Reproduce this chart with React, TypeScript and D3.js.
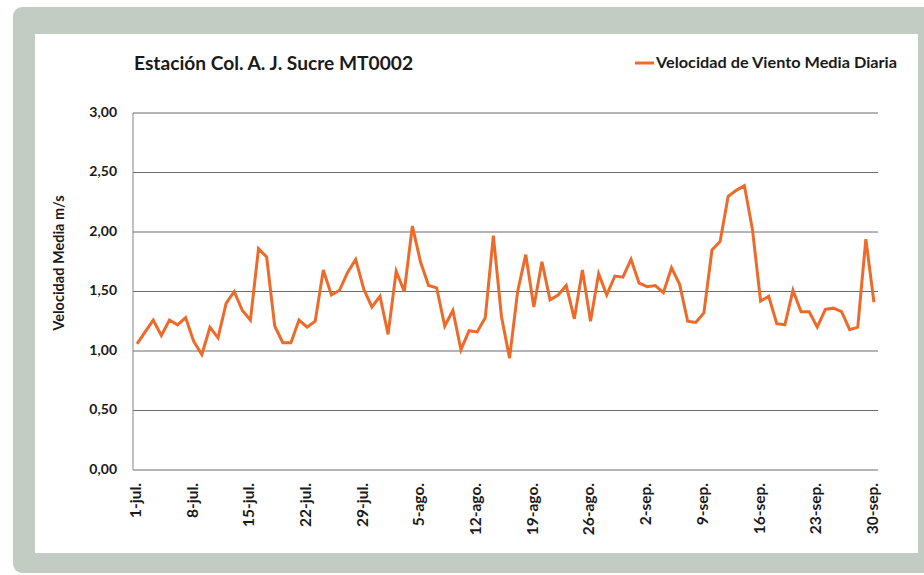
import React from 'react';
import * as d3 from 'd3';

// daily mean wind speed, 1-jul .. 30-sep (92 days)
const windSpeed = [
  1.06, 1.16, 1.26, 1.13, 1.26, 1.22, 1.28, 1.08, 0.97, 1.2,
  1.11, 1.4, 1.5, 1.34, 1.26, 1.86, 1.79, 1.21, 1.07, 1.07,
  1.26, 1.2, 1.25, 1.68, 1.47, 1.51, 1.66, 1.77, 1.52, 1.37,
  1.46, 1.14, 1.67, 1.5, 2.05, 1.75, 1.55, 1.53, 1.21, 1.34,
  1.01, 1.17, 1.16, 1.28, 1.97, 1.29, 0.94, 1.5, 1.81, 1.37,
  1.75, 1.43, 1.47, 1.55, 1.27, 1.68, 1.25, 1.65, 1.47, 1.63,
  1.62, 1.77, 1.57, 1.54, 1.55, 1.49, 1.7, 1.56, 1.25, 1.24,
  1.32, 1.85, 1.92, 2.3, 2.35, 2.39, 2.02, 1.42, 1.46, 1.23,
  1.22, 1.51, 1.33, 1.33, 1.2, 1.35, 1.36, 1.33, 1.18, 1.2,
  1.94, 1.41
];

const tickLabels = [
  '1-jul.', '8-jul.', '15-jul.', '22-jul.', '29-jul.', '5-ago.', '12-ago.',
  '19-ago.', '26-ago.', '2-sep.', '9-sep.', '16-sep.', '23-sep.', '30-sep.'
];

const yTicks = [0, 0.5, 1, 1.5, 2, 2.5, 3];

const title = 'Estación Col. A. J. Sucre MT0002';
const seriesName = 'Velocidad de Viento Media Diaria';
const yTitle = 'Velocidad Media m/s';

const W = 924;
const H = 575;
const plot = { left: 133, right: 878, top: 113, bottom: 470 };
const orange = '#ee6a2a';
const font = 'Lato, "Open Sans", sans-serif';

export default function App() {
  const x = d3
    .scaleBand<number>()
    .domain(d3.range(windSpeed.length))
    .range([plot.left, plot.right]);
  const cx = (i: number) => (x(i) as number) + x.bandwidth() / 2;

  const y = d3.scaleLinear().domain([0, 3]).range([plot.bottom, plot.top]);

  const line = d3
    .line<number>()
    .x((_, i) => cx(i))
    .y(d => y(d));

  const fmt = (v: number) => d3.format('.2f')(v).replace('.', ',');

  return (
    <svg
      width={W}
      height={H}
      style={{ position: 'absolute', left: 0, top: 0 }}
      fontFamily={font}
    >
      <rect x={13} y={7} width={W + 20} height={566} rx={9} fill="#c2ccc3" />
      <rect x={35} y={34} width={883} height={519} fill="#ffffff" />

      <text
        x={134}
        y={70}
        fontSize={19}
        fontWeight={700}
        fill="#1a1a1a"
        textLength={279}
        lengthAdjust="spacingAndGlyphs"
      >
        {title}
      </text>

      <line x1={635} x2={654} y1={63} y2={63} stroke={orange} strokeWidth={3} />
      <text
        x={656}
        y={68}
        fontSize={14.5}
        fontWeight={700}
        fill="#1a1a1a"
        textLength={241}
        lengthAdjust="spacingAndGlyphs"
      >
        {seriesName}
      </text>

      {yTicks.map(t => (
        <g key={t}>
          <line
            x1={plot.left}
            x2={plot.right}
            y1={y(t)}
            y2={y(t)}
            stroke="#6b6b6b"
            strokeWidth={1}
          />
          <text
            x={117}
            y={y(t)}
            textAnchor="end"
            dominantBaseline="middle"
            fontSize={14}
            fontWeight={700}
            fill="#1a1a1a"
          >
            {fmt(t)}
          </text>
        </g>
      ))}
      <line
        x1={plot.left}
        x2={plot.left}
        y1={plot.top}
        y2={plot.bottom}
        stroke="#858585"
        strokeWidth={1}
      />

      <text
        transform={`translate(60, 263) rotate(-90)`}
        textAnchor="middle"
        dominantBaseline="middle"
        fontSize={14.5}
        fontWeight={700}
        fill="#1a1a1a"
      >
        {yTitle}
      </text>

      {tickLabels.map((lab, k) => (
        <text
          key={lab}
          transform={`translate(${cx(k * 7)}, 483) rotate(-90)`}
          textAnchor="end"
          dominantBaseline="middle"
          fontSize={15.5}
          fontWeight={700}
          fill="#1a1a1a"
        >
          {lab}
        </text>
      ))}

      <path
        d={line(windSpeed) || ''}
        fill="none"
        stroke={orange}
        strokeWidth={3}
        strokeLinejoin="miter"
      />
    </svg>
  );
}
